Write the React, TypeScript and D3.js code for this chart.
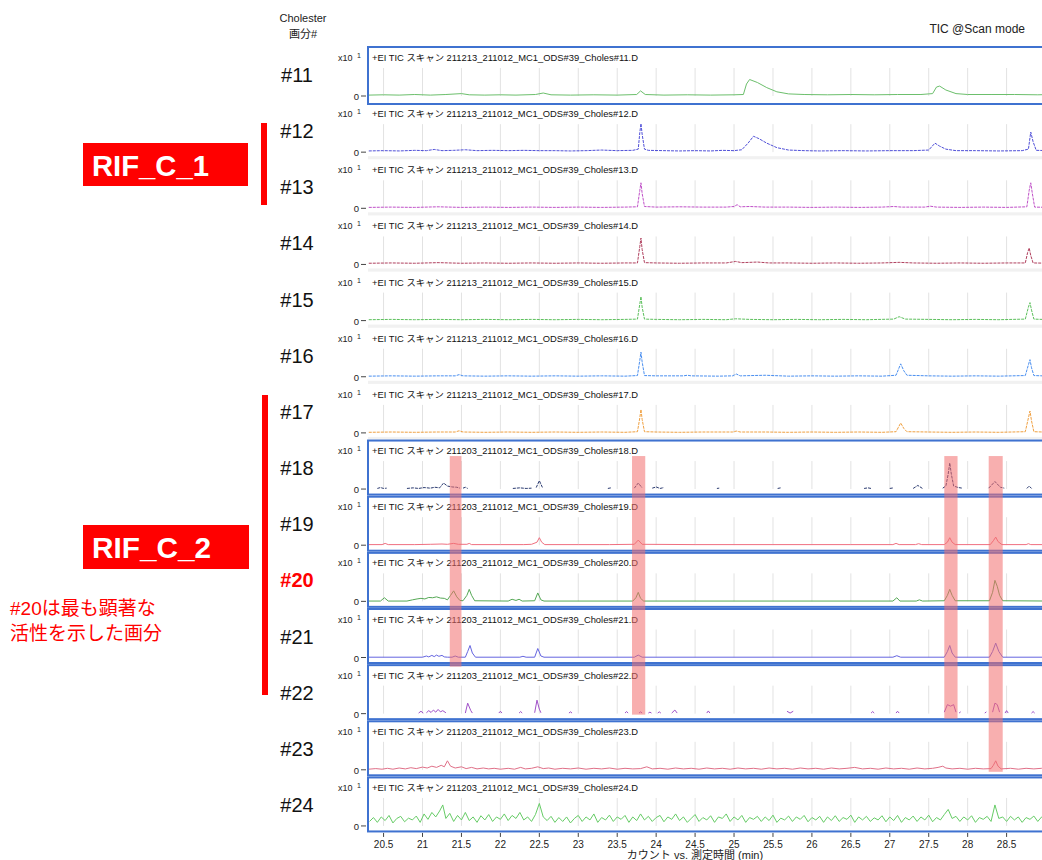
import React from "react";
import * as d3 from "d3";

type Pt = [number, number] | null;

const fractionLabels = ["#11","#12","#13","#14","#15","#16","#17","#18","#19","#20","#21","#22","#23","#24"];
const sampleCodes = ["211213","211213","211213","211213","211213","211213","211213","211203","211203","211203","211203","211203","211203","211203"];
const framedPanels = [true,false,false,false,false,false,false,true,true,true,true,true,true,true];
const traceColors = ["#6cbf6c","#5050d8","#c050c8","#b0405e","#5cc05c","#4a8ff0","#f0a040","#2a3a70","#f07080","#55a855","#6464e0","#a050c8","#e07088","#66cc66"];
const timeTicks = [20.5,21,21.5,22,22.5,23,23.5,24,24.5,25,25.5,26,26.5,27,27.5,28,28.5];
const tickLabels = ["20.5","21","21.5","22","22.5","23","23.5","24","24.5","25","25.5","26","26.5","27","27.5","28","28.5"];

// highlight bands: [t0, t1, lastPanelIndex, endOffset]
const bands: [number, number, number, number][] = [
  [21.35, 21.5, 11, 2],
  [23.69, 23.86, 11, 50],
  [27.7, 27.87, 11, 54],
  [28.27, 28.45, 12, 51],
];

const trace11: Pt[] = [[20.31,.03],[20.5,.04],[20.7,.03],[20.9,.05],[21.1,.03],[21.3,.05],[21.5,.08],[21.6,.04],[21.8,.03],[22.0,.04],[22.2,.03],[22.45,.05],[22.55,.1],[22.65,.04],[22.9,.03],[23.2,.04],[23.5,.03],[23.75,.05],[23.8,.17],[23.86,.05],[24.1,.03],[24.4,.04],[24.7,.03],[25.0,.04],[25.12,.05],[25.16,.4],[25.2,.55],[25.3,.45],[25.42,.28],[25.55,.14],[25.7,.07],[25.9,.05],[26.2,.04],[26.5,.05],[26.8,.04],[27.1,.05],[27.4,.05],[27.55,.08],[27.6,.3],[27.64,.33],[27.72,.2],[27.85,.08],[28.0,.05],[28.3,.05],[28.6,.05],[28.9,.04],[29.07,.05]];
const trace12: Pt[] = [[20.31,.04],[20.5,.05],[20.7,.04],[20.9,.06],[21.05,.05],[21.15,.09],[21.25,.05],[21.4,.06],[21.55,.08],[21.7,.05],[21.9,.06],[22.1,.05],[22.3,.06],[22.5,.05],[22.7,.05],[22.9,.04],[23.1,.05],[23.3,.07],[23.5,.05],[23.7,.06],[23.77,.1],[23.79,.65],[23.805,.95],[23.82,.6],[23.85,.1],[23.9,.06],[24.1,.05],[24.3,.04],[24.5,.05],[24.7,.04],[24.85,.06],[25.0,.05],[25.1,.08],[25.18,.3],[25.25,.53],[25.32,.45],[25.42,.3],[25.55,.15],[25.7,.07],[25.9,.05],[26.1,.04],[26.4,.05],[26.7,.04],[27.0,.05],[27.3,.05],[27.5,.07],[27.58,.3],[27.64,.2],[27.72,.1],[27.85,.05],[28.1,.05],[28.4,.04],[28.7,.05],[28.78,.1],[28.81,.67],[28.84,.35],[28.88,.06],[29.07,.05]];
const trace13: Pt[] = [[20.31,.03],[20.6,.04],[20.9,.03],[21.2,.05],[21.5,.03],[21.8,.04],[22.1,.03],[22.4,.04],[22.7,.03],[23.0,.04],[23.3,.03],[23.6,.04],[23.76,.05],[23.79,.6],[23.805,.85],[23.82,.5],[23.85,.06],[24.0,.04],[24.3,.05],[24.6,.04],[24.9,.04],[25.0,.06],[25.04,.12],[25.08,.05],[25.2,.06],[25.4,.04],[25.7,.04],[26.0,.03],[26.3,.04],[26.6,.03],[26.9,.04],[27.05,.06],[27.15,.04],[27.45,.04],[27.52,.07],[27.6,.04],[27.9,.03],[28.2,.04],[28.5,.03],[28.76,.05],[28.79,.6],[28.81,.85],[28.83,.5],[28.86,.04],[29.07,.03]];
const trace14: Pt[] = [[20.31,.04],[20.6,.05],[20.9,.04],[21.2,.06],[21.5,.04],[21.8,.05],[22.1,.04],[22.4,.05],[22.7,.04],[23.0,.05],[23.3,.04],[23.6,.05],[23.76,.05],[23.79,.6],[23.805,.88],[23.82,.5],[23.85,.06],[24.0,.05],[24.3,.04],[24.6,.05],[24.9,.05],[25.02,.1],[25.1,.06],[25.3,.08],[25.45,.05],[25.7,.05],[26.0,.04],[26.3,.05],[26.6,.04],[26.9,.05],[27.12,.07],[27.3,.05],[27.6,.04],[27.9,.05],[28.2,.04],[28.5,.05],[28.74,.05],[28.77,.4],[28.79,.55],[28.81,.3],[28.84,.05],[29.07,.04]];
const trace15: Pt[] = [[20.31,.03],[20.6,.04],[20.9,.03],[21.2,.04],[21.5,.03],[21.8,.04],[22.1,.03],[22.4,.04],[22.7,.03],[23.0,.04],[23.3,.03],[23.6,.04],[23.76,.05],[23.79,.55],[23.805,.8],[23.82,.45],[23.85,.05],[24.0,.04],[24.3,.03],[24.6,.04],[24.9,.03],[25.02,.06],[25.2,.04],[25.5,.03],[25.8,.04],[26.1,.03],[26.4,.04],[26.7,.03],[27.05,.05],[27.12,.13],[27.2,.05],[27.5,.04],[27.8,.03],[28.1,.04],[28.4,.03],[28.74,.05],[28.78,.45],[28.8,.6],[28.82,.35],[28.85,.05],[29.07,.03]];
const trace16: Pt[] = [[20.31,.02],[20.6,.03],[20.9,.02],[21.2,.03],[21.42,.03],[21.47,.07],[21.52,.03],[21.8,.02],[22.1,.03],[22.4,.02],[22.7,.03],[23.0,.02],[23.3,.03],[23.6,.02],[23.76,.04],[23.79,.55],[23.805,.82],[23.82,.5],[23.85,.04],[24.0,.03],[24.35,.03],[24.4,.05],[24.45,.03],[24.8,.02],[24.98,.03],[25.03,.09],[25.08,.03],[25.4,.05],[25.7,.02],[26.0,.03],[26.3,.02],[26.6,.03],[26.9,.02],[27.08,.05],[27.14,.43],[27.18,.2],[27.22,.05],[27.5,.03],[27.8,.02],[28.1,.03],[28.4,.02],[28.74,.04],[28.78,.4],[28.8,.57],[28.82,.3],[28.85,.04],[29.07,.02]];
const trace17: Pt[] = [[20.31,.02],[20.6,.03],[20.9,.02],[21.2,.03],[21.42,.03],[21.47,.07],[21.52,.03],[21.8,.02],[22.1,.03],[22.4,.02],[22.7,.03],[23.0,.02],[23.3,.03],[23.6,.02],[23.76,.04],[23.79,.5],[23.805,.78],[23.82,.45],[23.85,.04],[24.0,.03],[24.3,.02],[24.6,.03],[24.98,.03],[25.03,.06],[25.08,.03],[25.4,.03],[25.7,.02],[26.0,.03],[26.3,.02],[26.6,.03],[26.9,.02],[27.08,.04],[27.14,.33],[27.18,.15],[27.22,.04],[27.5,.03],[27.8,.02],[28.1,.03],[28.4,.02],[28.74,.04],[28.78,.5],[28.8,.73],[28.82,.4],[28.85,.04],[29.07,.02]];
const trace18: Pt[] = [[20.42,.02],[20.46,.05],[20.5,.02],[20.54,.03],null,[20.8,.02],[20.88,.04],[20.95,.02],[21.02,.05],[21.1,.03],[21.16,.06],[21.22,.04],[21.27,.2],[21.32,.1],[21.38,.07],[21.44,.06],[21.48,.03],null,[21.52,.03],[21.55,.06],[21.58,.02],null,[22.16,.02],[22.25,.04],[22.33,.02],[22.4,.03],null,[22.46,.05],[22.5,.28],[22.54,.05],null,[23.38,.02],[23.42,.04],null,[23.72,.03],[23.77,.2],[23.82,.04],null,[23.95,.03],[24.0,.07],[24.05,.02],[24.1,.05],null,[24.78,.02],[24.81,.03],null,[25.56,.02],[25.6,.04],null,[26.67,.02],[26.72,.04],[26.76,.02],null,[27.0,.02],[27.05,.04],null,[27.3,.02],[27.36,.12],[27.42,.02],null,[27.68,.03],[27.72,.1],[27.75,.5],[27.77,.87],[27.79,.5],[27.82,.1],[27.88,.05],[27.93,.03],null,[28.27,.03],[28.35,.25],[28.42,.06],[28.47,.03],null,[28.76,.02],[28.79,.1],[28.82,.02]];
const trace19: Pt[] = [[20.31,.02],[20.48,.02],[20.52,.06],[20.56,.02],[20.9,.02],[21.1,.03],[21.25,.04],[21.32,.03],[21.4,.06],[21.46,.03],[21.57,.03],[21.6,.06],[21.63,.02],[22.0,.02],[22.3,.02],[22.4,.03],[22.47,.1],[22.5,.25],[22.53,.1],[22.57,.02],[23.0,.02],[23.4,.02],[23.72,.03],[23.77,.17],[23.82,.03],[24.5,.02],[25.5,.02],[26.5,.02],[27.04,.02],[27.08,.06],[27.12,.02],[27.33,.02],[27.37,.05],[27.41,.02],[27.7,.02],[27.74,.1],[27.77,.25],[27.8,.1],[27.84,.02],[28.29,.02],[28.33,.15],[28.36,.27],[28.39,.12],[28.44,.02],[28.75,.02],[28.78,.05],[28.81,.02],[29.07,.02]];
const trace20: Pt[] = [[20.31,.01],[20.46,.01],[20.51,.12],[20.56,.01],[20.8,.01],[20.87,.05],[20.93,.08],[20.98,.1],[21.03,.08],[21.08,.13],[21.13,.12],[21.18,.15],[21.23,.11],[21.28,.1],[21.32,.05],[21.36,.2],[21.4,.35],[21.44,.15],[21.48,.03],[21.52,.02],[21.57,.2],[21.6,.4],[21.63,.2],[21.67,.02],[22.1,.01],[22.15,.07],[22.2,.03],[22.24,.07],[22.28,.01],[22.44,.02],[22.48,.28],[22.52,.05],[22.56,.01],[23.7,.01],[23.74,.12],[23.77,.3],[23.8,.1],[23.84,.01],[27.04,.01],[27.09,.12],[27.13,.01],[27.34,.01],[27.38,.05],[27.42,.01],[27.7,.02],[27.74,.2],[27.77,.4],[27.8,.2],[27.84,.02],[28.28,.02],[28.32,.3],[28.35,.7],[28.38,.5],[28.41,.2],[28.45,.02],[29.07,.01]];
const trace21: Pt[] = [[20.31,.01],[21.0,.01],[21.05,.05],[21.08,.02],[21.12,.07],[21.15,.03],[21.18,.08],[21.21,.04],[21.25,.07],[21.28,.02],[21.32,.01],[21.38,.01],[21.42,.05],[21.46,.01],[21.55,.01],[21.58,.2],[21.61,.4],[21.64,.15],[21.68,.01],[22.25,.01],[22.29,.04],[22.33,.01],[22.44,.01],[22.48,.3],[22.52,.05],[22.56,.01],[23.72,.01],[23.77,.08],[23.82,.01],[27.04,.01],[27.09,.06],[27.14,.01],[27.7,.01],[27.74,.2],[27.77,.4],[27.8,.15],[27.84,.01],[28.28,.01],[28.32,.2],[28.36,.48],[28.4,.2],[28.45,.01],[29.07,.01]];
const trace22: Pt[] = [[20.95,.02],[20.98,.08],[21.01,.02],null,[21.05,.03],[21.08,.1],[21.11,.04],[21.14,.12],[21.17,.05],[21.2,.14],[21.23,.06],[21.26,.1],[21.3,.03],null,[21.55,.02],[21.58,.35],[21.62,.1],[21.64,.02],null,[21.98,.02],[22.0,.08],[22.02,.02],null,[22.24,.02],[22.26,.07],[22.28,.02],null,[22.44,.03],[22.47,.45],[22.5,.15],[22.52,.03],null,[22.88,.02],[22.9,.06],[22.92,.02],null,[23.6,.02],[23.62,.07],[23.64,.02],null,[23.78,.02],[23.8,.06],[23.82,.02],null,[23.9,.02],[23.92,.05],[23.94,.02],null,[24.02,.02],[24.04,.06],[24.06,.02],null,[24.2,.02],[24.24,.12],[24.27,.02],null,[24.65,.02],[24.67,.09],[24.69,.02],null,[25.68,.08],[25.72,.02],[25.76,.08],null,[26.76,.02],[26.78,.07],[26.8,.02],null,[27.08,.02],[27.1,.08],[27.12,.02],null,[27.7,.05],[27.74,.3],[27.78,.25],[27.82,.3],[27.85,.05],null,[27.89,.02],[27.91,.06],null,[28.22,.02],[28.24,.06],null,[28.32,.05],[28.35,.35],[28.38,.3],[28.41,.05],null,[28.48,.02],[28.5,.1],[28.52,.02],null,[28.82,.02],[28.84,.07],[28.86,.02]];
const trace23: Pt[] = [[20.31,.02],[20.4,.04],[20.48,.02],[20.55,.05],[20.62,.02],[20.7,.06],[20.78,.03],[20.85,.07],[20.92,.04],[21.0,.09],[21.06,.06],[21.12,.12],[21.18,.08],[21.24,.15],[21.28,.1],[21.32,.3],[21.36,.12],[21.42,.06],[21.5,.1],[21.56,.04],[21.63,.08],[21.7,.03],[21.78,.06],[21.85,.03],[21.92,.05],[22.0,.02],[22.1,.05],[22.18,.02],[22.26,.08],[22.32,.03],[22.4,.05],[22.48,.1],[22.55,.04],[22.62,.06],[22.7,.02],[22.8,.05],[22.9,.03],[23.0,.06],[23.1,.02],[23.2,.05],[23.3,.03],[23.4,.06],[23.5,.02],[23.6,.05],[23.7,.03],[23.8,.04],[23.88,.1],[23.95,.03],[24.05,.05],[24.15,.02],[24.25,.06],[24.35,.03],[24.45,.05],[24.55,.02],[24.65,.06],[24.75,.03],[24.85,.05],[24.95,.02],[25.05,.06],[25.15,.03],[25.25,.05],[25.35,.02],[25.45,.06],[25.55,.03],[25.65,.05],[25.75,.02],[25.85,.06],[25.95,.03],[26.05,.05],[26.15,.02],[26.25,.06],[26.35,.03],[26.45,.05],[26.55,.08],[26.65,.03],[26.75,.05],[26.85,.02],[26.95,.06],[27.05,.03],[27.15,.05],[27.25,.02],[27.35,.06],[27.45,.03],[27.55,.05],[27.62,.08],[27.68,.12],[27.72,.06],[27.8,.03],[27.9,.05],[28.0,.02],[28.1,.05],[28.2,.03],[28.3,.04],[28.33,.15],[28.36,.3],[28.39,.12],[28.43,.03],[28.55,.05],[28.65,.02],[28.75,.05],[28.85,.03],[28.95,.05],[29.07,.02]];
const trace24: Pt[] = [[20.32,.15],[20.37,.28],[20.42,.12],[20.47,.3],[20.52,.18],[20.57,.35],[20.62,.1],[20.67,.25],[20.72,.32],[20.77,.14],[20.82,.26],[20.87,.2],[20.92,.33],[20.97,.12],[21.02,.4],[21.07,.22],[21.12,.45],[21.17,.3],[21.22,.5],[21.26,.7],[21.3,.25],[21.35,.42],[21.4,.15],[21.45,.35],[21.5,.2],[21.55,.45],[21.6,.18],[21.65,.3],[21.7,.12],[21.75,.34],[21.8,.2],[21.85,.38],[21.9,.15],[21.95,.3],[22.0,.22],[22.05,.4],[22.1,.18],[22.15,.35],[22.2,.25],[22.25,.45],[22.3,.2],[22.35,.3],[22.4,.15],[22.45,.38],[22.5,.75],[22.55,.3],[22.6,.18],[22.65,.32],[22.7,.12],[22.75,.28],[22.8,.15],[22.85,.3],[22.9,.1],[22.95,.25],[23.0,.35],[23.05,.15],[23.1,.3],[23.15,.2],[23.2,.4],[23.25,.12],[23.3,.28],[23.35,.2],[23.4,.36],[23.45,.15],[23.5,.3],[23.55,.22],[23.6,.35],[23.65,.12],[23.7,.3],[23.75,.18],[23.8,.4],[23.85,.2],[23.9,.32],[23.95,.15],[24.0,.28],[24.05,.35],[24.1,.14],[24.15,.3],[24.2,.22],[24.25,.4],[24.3,.18],[24.35,.3],[24.4,.12],[24.45,.25],[24.5,.38],[24.55,.15],[24.6,.28],[24.65,.2],[24.7,.34],[24.75,.12],[24.8,.3],[24.85,.25],[24.9,.4],[24.95,.15],[25.0,.3],[25.05,.2],[25.1,.35],[25.15,.12],[25.2,.28],[25.25,.22],[25.3,.32],[25.35,.15],[25.4,.3],[25.45,.18],[25.5,.36],[25.55,.12],[25.6,.26],[25.65,.2],[25.7,.33],[25.75,.15],[25.8,.3],[25.85,.22],[25.9,.35],[25.95,.14],[26.0,.28],[26.05,.2],[26.1,.32],[26.15,.12],[26.2,.3],[26.25,.18],[26.3,.34],[26.35,.15],[26.4,.28],[26.45,.22],[26.5,.36],[26.55,.12],[26.6,.3],[26.65,.2],[26.7,.32],[26.75,.15],[26.8,.27],[26.85,.2],[26.9,.34],[26.95,.14],[27.0,.3],[27.05,.18],[27.1,.35],[27.15,.12],[27.2,.28],[27.25,.2],[27.3,.33],[27.35,.15],[27.4,.3],[27.45,.2],[27.5,.36],[27.55,.14],[27.6,.28],[27.65,.2],[27.7,.38],[27.75,.55],[27.8,.25],[27.85,.32],[27.9,.15],[27.95,.3],[28.0,.2],[28.05,.34],[28.1,.12],[28.15,.28],[28.2,.22],[28.25,.32],[28.3,.15],[28.35,.7],[28.4,.25],[28.45,.3],[28.5,.15],[28.55,.32],[28.6,.2],[28.65,.3],[28.7,.12],[28.75,.28],[28.8,.22],[28.85,.33],[28.9,.15],[28.95,.3],[29.0,.2],[29.05,.28]];

const traces: Pt[][] = [trace11,trace12,trace13,trace14,trace15,trace16,trace17,trace18,trace19,trace20,trace21,trace22,trace23,trace24];

const W = 1042, H = 860;
const PLOT_L = 368;
const FIRST_TOP = 47;
const STEP = 56.15;
const LATIN = "'Liberation Sans', Arial, 'Noto Sans CJK JP', sans-serif";
const CJK = "'Liberation Sans', 'Noto Sans CJK JP', sans-serif";

export default function App() {
  const x = d3.scaleLinear().domain([20.3, 29.07]).range([PLOT_L, 1051]);
  const top = (i: number) => FIRST_TOP + i * STEP;
  const base = (i: number) => top(i) + 49;
  const yv = d3.scaleLinear().domain([0, 1]).range([0, -30]);

  const lastTop = top(13);
  const axisY = lastTop + 56;

  return (
    <div style={{ position: "absolute", left: 0, top: 0, width: W, height: H, background: "#fff" }}>
      <svg width={W} height={H} style={{ display: "block" }}>
        <rect x={0} y={0} width={W} height={H} fill="#fff" />
        {/* header */}
        <text x={303} y={22} fontSize={11} fontFamily={LATIN} textAnchor="middle" fill="#222">Cholester</text>
        <text x={303} y={38} fontSize={11} fontFamily={CJK} textAnchor="middle" fill="#222">画分#</text>
        <text x={1025} y={33} fontSize={12} fontFamily={LATIN} textAnchor="end" fill="#222">TIC @Scan mode</text>

        {/* panels */}
        {traces.map((tr, i) => {
          const t0 = top(i);
          const b = base(i);
          const line = d3.line<Pt>()
            .defined((d) => d !== null)
            .x((d) => x((d as [number, number])[0]))
            .y((d) => b + yv((d as [number, number])[1]));
          const title = `+EI TIC スキャン  ${sampleCodes[i]}_211012_MC1_ODS#39_Choles${fractionLabels[i]}.D`;
          return (
            <g key={i}>
              {!framedPanels[i] && (
                <rect x={PLOT_L} y={b + 4} width={W - PLOT_L} height={t0 + STEP - b - 4} fill="#f1f1f1" />
              )}
              {timeTicks.map((t) => (
                <line key={t} x1={x(t)} x2={x(t)} y1={t0 + 21} y2={b} stroke="#e2e2e2" strokeWidth={1} />
              ))}
              <path d={line(tr) || ""} fill="none" stroke={traceColors[i]} strokeWidth={1}
                strokeDasharray={i >= 1 && i <= 7 ? "3,1" : undefined} />
              {framedPanels[i] && (
                <rect x={PLOT_L} y={i === 0 ? t0 : t0 + 0.5} width={700} height={i === 0 ? 57 : 54}
                  fill="none" stroke="#3f72d0" strokeWidth={2} />
              )}
              <text x={372} y={t0 + 14} fontSize={9} fontFamily={CJK} fill="#111" textLength={266} lengthAdjust="spacingAndGlyphs">{title}</text>
              <text x={338} y={t0 + 14} fontSize={9} fontFamily={LATIN} fill="#222">x10</text>
              <text x={357} y={t0 + 11} fontSize={7} fontFamily={LATIN} fill="#222">1</text>
              <text x={359} y={b + 4} fontSize={9.5} fontFamily={LATIN} fill="#222" textAnchor="end">0</text>
              <line x1={361} x2={366} y1={b} y2={b} stroke="#444" strokeWidth={1} />
              <text x={297} y={t0 + 35} fontSize={20} fontFamily={LATIN} textAnchor="middle"
                fill={fractionLabels[i] === "#20" ? "#ff0000" : "#111"} fontWeight={fractionLabels[i] === "#20" ? "bold" : "normal"}>
                {fractionLabels[i]}
              </text>
            </g>
          );
        })}

        {/* highlight bands */}
        {bands.map(([a, c, last, off], k) => (
          <rect key={k} x={x(a)} y={top(7) + 16} width={x(c) - x(a)} height={top(last) + off - (top(7) + 16)}
            fill="#f26d6d" opacity={0.55} />
        ))}

        {/* x axis */}
        {timeTicks.map((t, k) => (
          <g key={t}>
            <line x1={x(t)} x2={x(t)} y1={axisY} y2={axisY + 4} stroke="#444" />
            <text x={x(t)} y={axisY + 15} fontSize={10} fontFamily={LATIN} textAnchor="middle" fill="#222">{tickLabels[k]}</text>
          </g>
        ))}
        <text x={695} y={axisY + 26} fontSize={11} fontFamily={CJK} textAnchor="middle" fill="#222">カウント vs. 測定時間 (min)</text>

        {/* group annotations */}
        <rect x={83} y={143} width={165} height={43} fill="#ff0000" />
        <text x={92} y={176} fontSize={30} fontWeight="bold" fontFamily={LATIN} fill="#fff" textLength={117} lengthAdjust="spacingAndGlyphs">RIF_C_1</text>
        <rect x={261} y={123} width={6} height={82} fill="#ff0000" />

        <rect x={83} y={525} width={166} height={44} fill="#ff0000" />
        <text x={92} y={558} fontSize={30} fontWeight="bold" fontFamily={LATIN} fill="#fff" textLength={119} lengthAdjust="spacingAndGlyphs">RIF_C_2</text>
        <rect x={262} y={395} width={6} height={300} fill="#ff0000" />

        <text x={10} y={615} fontSize={19} fontFamily={CJK} fill="#ff0000">#20は最も顕著な</text>
        <text x={10} y={640} fontSize={19} fontFamily={CJK} fill="#ff0000">活性を示した画分</text>
      </svg>
    </div>
  );
}
